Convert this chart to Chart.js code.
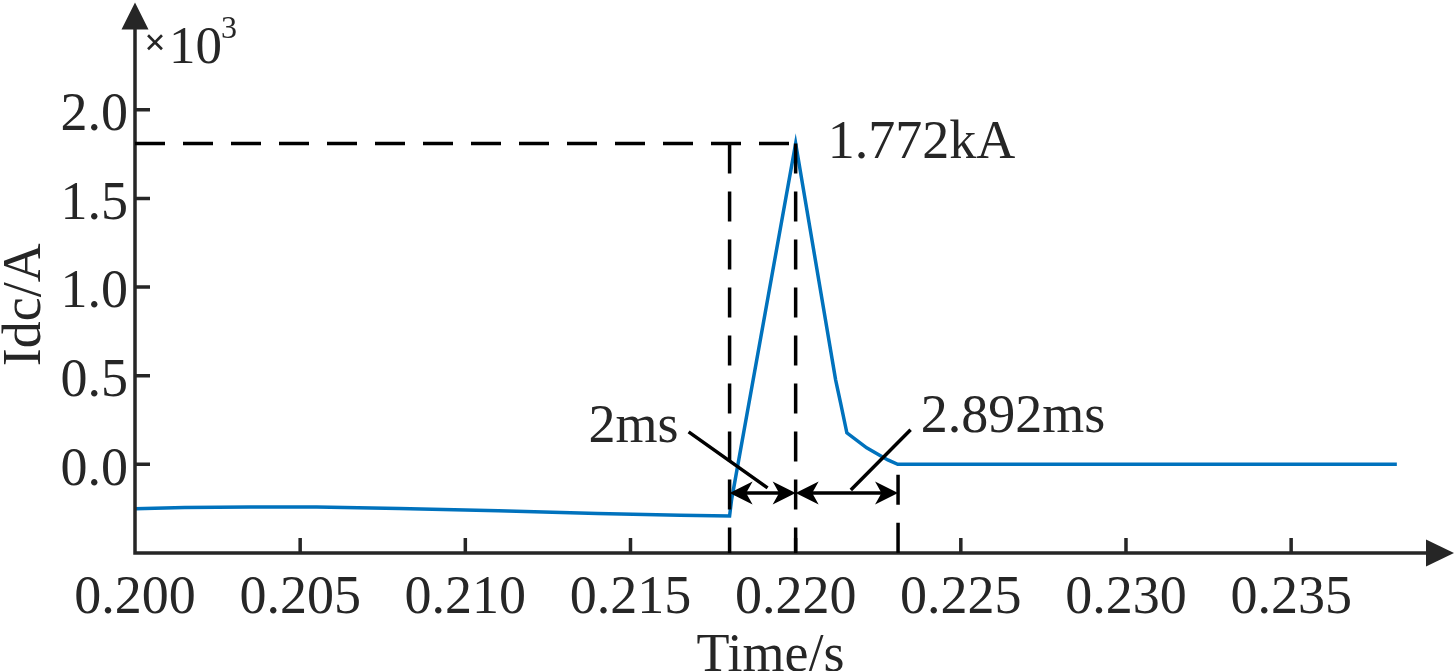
<!DOCTYPE html>
<html>
<head>
<meta charset="utf-8">
<title>Idc</title>
<script src="https://cdn.jsdelivr.net/npm/chart.js@4.4.1/dist/chart.umd.min.js"></script>
<style>
  html, body { margin: 0; padding: 0; background: #fff; }
  #wrap { width: 1454px; height: 671px; }
</style>
</head>
<body>
<div id="wrap"><canvas id="c" width="1454" height="671"></canvas></div>
<script>
// DC current through the fault, y in units of 10^3 A
const timeS = [0.2000, 0.2015, 0.2035, 0.2055, 0.2080, 0.2110, 0.2140, 0.2165, 0.2180, 0.21806,
               0.2200, 0.22121, 0.22136, 0.22155, 0.22215, 0.22279, 0.22309, 0.2382];
const idcKA = [-0.251, -0.244, -0.240, -0.241, -0.249, -0.262, -0.277, -0.287, -0.291, -0.200,
               1.810, 0.477, 0.347, 0.178, 0.093, 0.025, 0.000, 0.000];

const xTicks = [0.200, 0.205, 0.210, 0.215, 0.220, 0.225, 0.230, 0.235];
const yTicks = [0.0, 0.5, 1.0, 1.5, 2.0];

// marked values
const peakKA = 1.81;
const peakLabel = '1.772kA';
const markTimes = [0.218, 0.220, 0.2231];
const spanLabels = ['2ms', '2.892ms'];

const INK = '#262626';
const SERIF = '"Liberation Serif", "Times New Roman", serif';
const BLUE = '#0072BD';

function arrowHead(ctx, tipX, tipY, dx, dy, len, half) {
  // stealth-like head pointing along (dx, dy)
  const px = -dy, py = dx;
  const bx = tipX - dx * len, by = tipY - dy * len;
  const nx = tipX - dx * len * 0.72, ny = tipY - dy * len * 0.72;
  ctx.beginPath();
  ctx.moveTo(tipX, tipY);
  ctx.lineTo(bx + px * half, by + py * half);
  ctx.lineTo(nx, ny);
  ctx.lineTo(bx - px * half, by - py * half);
  ctx.closePath();
  ctx.fill();
}

const decorations = {
  id: 'decorations',
  afterDatasetsDraw(chart) {
    const { ctx, chartArea: a, scales: { x, y } } = chart;
    const X = (v) => x.getPixelForValue(v);
    const Y = (v) => y.getPixelForValue(v);
    ctx.save();

    // axes with arrows and inward ticks
    ctx.strokeStyle = INK;
    ctx.fillStyle = INK;
    ctx.lineWidth = 3.5;
    ctx.lineCap = 'butt';
    ctx.beginPath();
    ctx.moveTo(a.left, a.bottom + 1.75);
    ctx.lineTo(a.left, a.top + 20);
    ctx.moveTo(a.left - 1.75, a.bottom);
    ctx.lineTo(a.right - 20, a.bottom);
    xTicks.forEach((t) => { ctx.moveTo(X(t), a.bottom); ctx.lineTo(X(t), a.bottom - 15); });
    yTicks.forEach((t) => { ctx.moveTo(a.left, Y(t)); ctx.lineTo(a.left + 15, Y(t)); });
    ctx.stroke();
    ctx.beginPath();
    ctx.moveTo(a.left, a.top - 1);
    ctx.lineTo(a.left - 13.5, a.top + 26);
    ctx.lineTo(a.left + 13.5, a.top + 26);
    ctx.closePath();
    ctx.fill();
    ctx.beginPath();
    ctx.moveTo(a.right + 1, a.bottom);
    ctx.lineTo(a.right - 27, a.bottom - 13.5);
    ctx.lineTo(a.right - 27, a.bottom + 13.5);
    ctx.closePath();
    ctx.fill();

    // dashed guides
    ctx.strokeStyle = '#000';
    ctx.fillStyle = '#000';
    ctx.setLineDash([30, 18]);
    ctx.beginPath();
    ctx.moveTo(X(0.2), Y(peakKA));
    ctx.lineTo(X(markTimes[1]), Y(peakKA));
    ctx.stroke();
    [markTimes[0], markTimes[1]].forEach((t) => {
      ctx.beginPath();
      ctx.moveTo(X(t), Y(peakKA));
      ctx.lineTo(X(t), a.bottom);
      ctx.stroke();
    });
    ctx.beginPath();
    ctx.moveTo(X(markTimes[2]), Y(-0.059));
    ctx.lineTo(X(markTimes[2]), a.bottom);
    ctx.stroke();
    ctx.setLineDash([]);

    // dimension arrows
    const ay = Y(-0.161);
    for (let i = 0; i < 2; i++) {
      const x0 = X(markTimes[i]), x1 = X(markTimes[i + 1]);
      ctx.beginPath();
      ctx.moveTo(x0 + 10, ay);
      ctx.lineTo(x1 - 10, ay);
      ctx.stroke();
      arrowHead(ctx, x0, ay, -1, 0, 23, 11.5);
      arrowHead(ctx, x1, ay, 1, 0, 23, 11.5);
    }

    // leader lines
    ctx.beginPath();
    ctx.moveTo(X(0.21676), Y(0.183));
    ctx.lineTo(X(0.21915), Y(-0.133));
    ctx.moveTo(X(0.22167), Y(-0.144));
    ctx.lineTo(X(0.22348), Y(0.195));
    ctx.stroke();

    // labels
    ctx.fillStyle = INK;
    ctx.font = '54px ' + SERIF;
    ctx.textBaseline = 'alphabetic';
    ctx.textAlign = 'left';
    ctx.fillText(peakLabel, X(0.22097), Y(1.729));
    ctx.fillText(spanLabels[0], X(0.213727), Y(0.127));
    ctx.fillText(spanLabels[1], X(0.223788), Y(0.183));

    ctx.textAlign = 'center';
    ctx.fillText('Time/s', X(0.21924), a.bottom + 118);

    ctx.save();
    ctx.translate(40, Y(0.9));
    ctx.rotate(-Math.PI / 2);
    ctx.fillText('Idc/A', 0, 0);
    ctx.restore();

    // x10^3 multiplier
    ctx.font = 'bold 38px ' + SERIF;
    ctx.textBaseline = 'middle';
    ctx.fillText('\u00d7', 155, 45);
    ctx.textBaseline = 'alphabetic';
    ctx.textAlign = 'left';
    ctx.font = '53px ' + SERIF;
    ctx.fillText('10', 169, 63);
    ctx.font = '32px ' + SERIF;
    ctx.fillText('3', 221, 38);

    ctx.restore();
  },
};

function draw() {
  const tickFont = { family: SERIF, size: 54 };
  new Chart(document.getElementById('c'), {
    type: 'line',
    data: {
      datasets: [{
        data: timeS.map((t, i) => ({ x: t, y: idcKA[i] })),
        borderColor: BLUE,
        borderWidth: 3.5,
        pointRadius: 0,
        tension: 0,
        fill: false,
      }],
    },
    options: {
      responsive: false,
      animation: false,
      layout: { padding: { top: 3.5, right: 1, left: 0, bottom: 0 } },
      plugins: { legend: { display: false }, tooltip: { enabled: false } },
      scales: {
        x: {
          type: 'linear',
          min: 0.2,
          max: 0.2399,
          grid: { display: false, drawTicks: false, tickLength: 0 },
          border: { display: false },
          ticks: {
            font: tickFont, color: INK, padding: 13, maxRotation: 0, autoSkip: false,
            callback: (v) => Number(v).toFixed(3),
          },
          afterBuildTicks: (s) => { s.ticks = xTicks.map((v) => ({ value: v })); },
          afterFit: (s) => { s.height = 118; s.paddingLeft = 0; s.paddingRight = 0; },
        },
        y: {
          min: -0.5,
          max: 2.6,
          grid: { display: false, drawTicks: false, tickLength: 0 },
          border: { display: false },
          ticks: {
            font: tickFont, color: INK, padding: 7, labelOffset: 6,
            callback: (v) => Number(v).toFixed(1),
          },
          afterBuildTicks: (s) => { s.ticks = yTicks.map((v) => ({ value: v })); },
          afterFit: (s) => { s.width = 135; s.paddingTop = 0; s.paddingBottom = 0; },
        },
      },
    },
    plugins: [decorations],
  });
}

if (document.fonts && document.fonts.load) {
  document.fonts.load('54px "Liberation Serif"').then(draw, draw);
} else {
  draw();
}
</script>
</body>
</html>
